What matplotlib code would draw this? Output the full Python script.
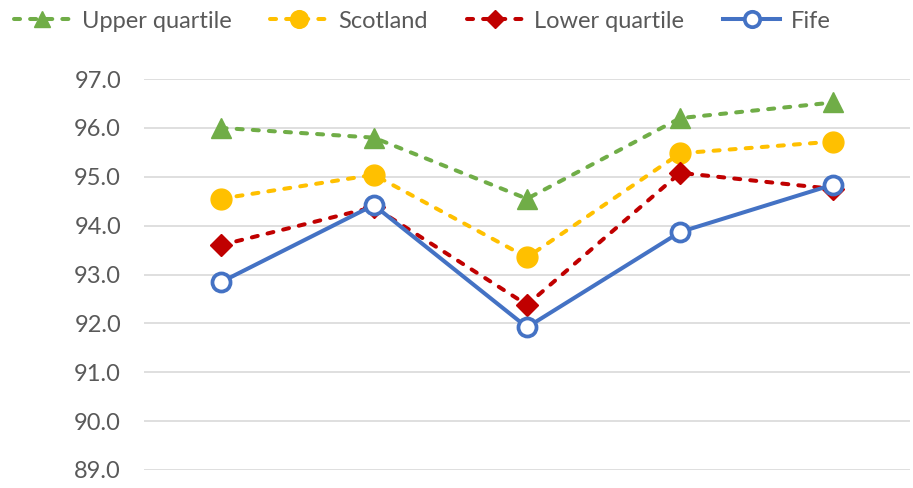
import matplotlib
matplotlib.use("Agg")
import matplotlib.pyplot as plt

categories = ["1", "2", "3", "4", "5"]
upper_quartile = [96.0, 95.8, 94.55, 96.2, 96.52]
scotland = [94.55, 95.04, 93.35, 95.48, 95.72]
lower_quartile = [93.6, 94.38, 92.38, 95.08, 94.75]
fife = [92.84, 94.42, 91.92, 93.87, 94.84]
yticks = [89.0, 90.0, 91.0, 92.0, 93.0, 94.0, 95.0, 96.0, 97.0]

plt.rcParams['font.family'] = ['Lato', 'DejaVu Sans']

fig = plt.figure(figsize=(9.13, 4.88), dpi=100)
ax = fig.add_axes([144 / 913, 1 - 470 / 488, 766 / 913, 391 / 488])

x = range(len(categories))
dash = (0, (1.5, 2.5))
lw = 2.9
ax.plot(x, upper_quartile, color="#70AD47", linestyle=dash, linewidth=lw, dash_capstyle="round",
        marker="^", markersize=14, label="Upper quartile", zorder=3)
ax.plot(x, scotland, color="#FFC000", linestyle=dash, linewidth=lw, dash_capstyle="round",
        marker="o", markersize=15, label="Scotland", zorder=3)
ax.plot(x, lower_quartile, color="#C00000", linestyle=dash, linewidth=lw, dash_capstyle="round",
        marker="D", markersize=11, label="Lower quartile", zorder=3)
ax.plot(x, fife, color="#4472C4", linestyle="-", linewidth=lw,
        marker="o", markersize=13, markerfacecolor="white", markeredgewidth=2.7,
        label="Fife", zorder=4)

ax.set_xlim(-0.5, len(categories) - 0.5)
ax.set_ylim(89, 97)
ax.set_yticks(yticks)
ax.set_yticklabels([f"{v:.1f}" for v in yticks], fontsize=17, color="#595959")
ax.set_xticks([])
ax.tick_params(axis="y", length=0, pad=16.5)
ax.grid(axis="y", color="#D9D9D9", linewidth=1.2)
ax.set_axisbelow(True)
for s in ax.spines.values():
    s.set_visible(False)

leg = fig.legend(loc="upper left", bbox_to_anchor=(-0.008, 1.022), ncol=4,
                 frameon=False, fontsize=17, handlelength=2.4, columnspacing=1.65,
                 handletextpad=0.47, markerscale=0.85)
for t in leg.get_texts():
    t.set_color("#595959")

fig.savefig("out.png", dpi=100)
